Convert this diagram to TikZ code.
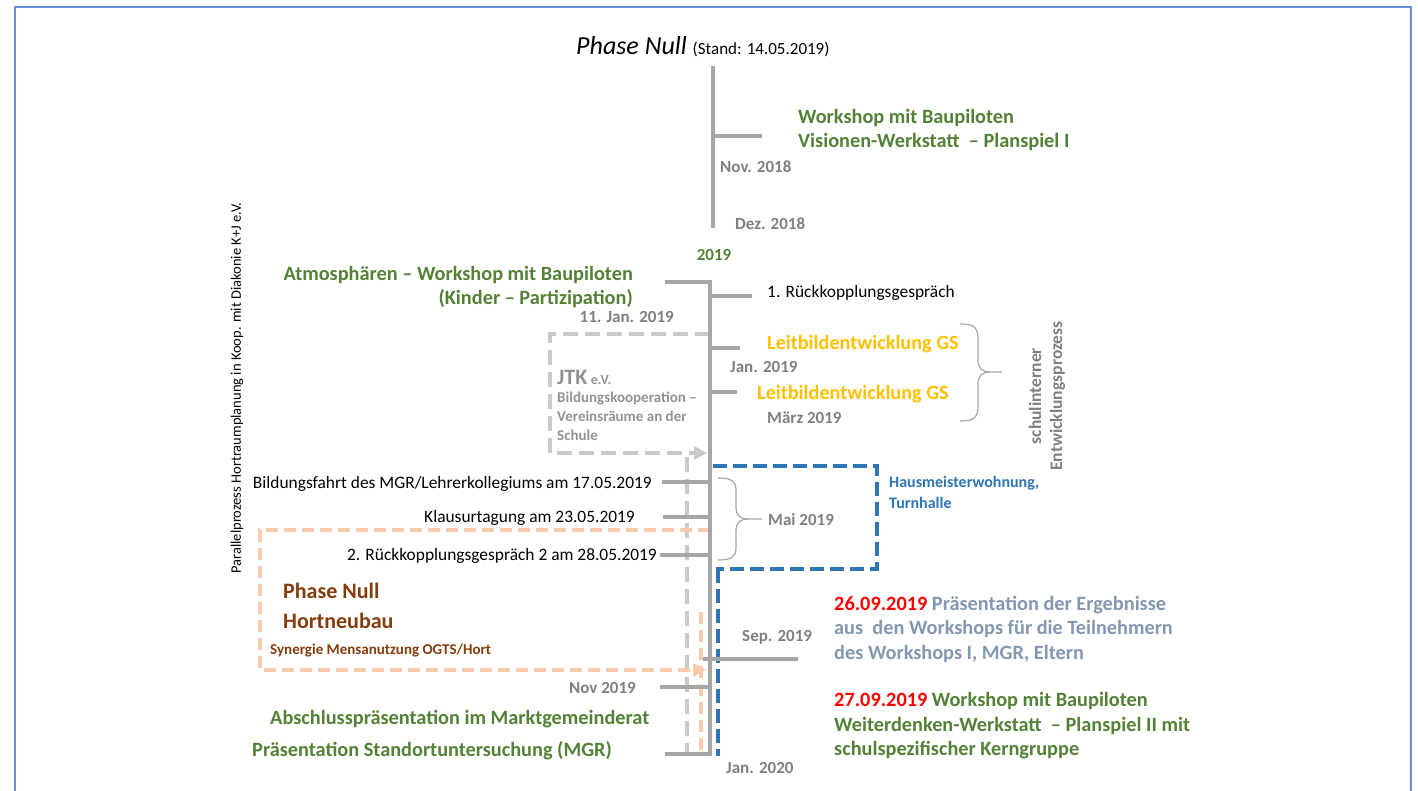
\documentclass[tikz,border=0pt]{standalone}
\usepackage{fontspec}
\setmainfont{Carlito}
\usetikzlibrary{arrows.meta}

\definecolor{achsgrau}{HTML}{A6A6A6}
\definecolor{datgrau}{HTML}{7F7F7F}
\definecolor{wsgruen}{HTML}{538135}
\definecolor{gsorange}{HTML}{FFC000}
\definecolor{hmblau}{HTML}{2E75B6}
\definecolor{hortpfirsich}{HTML}{F8CBAD}
\definecolor{jtkgrau}{HTML}{C9C9C9}
\definecolor{hortbraun}{HTML}{843C0C}
\definecolor{praesblau}{HTML}{8497B0}
\definecolor{rahmblau}{RGB}{106,142,214}

\tikzset{
  achse/.style={draw=achsgrau, line width=4pt},
  klammer/.style={draw=achsgrau, line width=1.2pt},
  rahmen/.style={draw=rahmblau, line width=2.5pt},
  jtklinie/.style={draw=jtkgrau, line width=4pt, dash pattern=on 15pt off 7pt},
  hortlinie/.style={draw=hortpfirsich, line width=4pt, dash pattern=on 12pt off 6pt},
  hmlinie/.style={draw=hmblau, line width=4pt, dash pattern=on 14pt off 6pt},
  datum/.style={inner sep=0pt, text=datgrau, font=\fontsize{17}{20}\selectfont\bfseries},
  termin/.style={inner sep=0pt, text=black, font=\fontsize{17.4}{20}\selectfont},
  gruen/.style={inner sep=0pt, text=wsgruen, font=\fontsize{20.3}{24.5}\selectfont\bfseries},
  gs/.style={inner sep=0pt, text=gsorange, font=\fontsize{20.2}{24}\selectfont\bfseries},
  jtk/.style={inner sep=0pt, text=datgrau!85, font=\fontsize{15}{19}\selectfont\bfseries},
  hm/.style={inner sep=0pt, text=hmblau, font=\fontsize{16}{21}\selectfont\bfseries},
  hort/.style={inner sep=0pt, text=hortbraun, font=\fontsize{22}{30}\selectfont\bfseries},
}

\begin{document}
\begin{tikzpicture}[x=1pt, y=-1pt]
    \useasboundingbox (0,0) rectangle (1418,791);

    \coordinate (r1) at (15,791);
    \coordinate (r2) at (15,7);
    \coordinate (r3) at (1411,7);
    \coordinate (r4) at (1411,791);
    \draw[rahmen] (r1) -- (r2) -- (r3) -- (r4);

    \coordinate (jtk0) at (710,334);
    \coordinate (jtk1) at (550,334);
    \coordinate (jtk2) at (550,453);
    \coordinate (jtk3) at (707,453);
    \coordinate (jtk4) at (687,457);
    \coordinate (jtk5) at (687,752);
    \draw[jtklinie, -{Triangle[length=13pt, width=13pt]}] (jtk0) -- (jtk1) -- (jtk2) -- (jtk3);
    \draw[jtklinie] (jtk4) -- (jtk5);

    \coordinate (hort0) at (710,530);
    \coordinate (hort1) at (260,530);
    \coordinate (hort2) at (260,670);
    \coordinate (hort3) at (706,670);
    \coordinate (hort4) at (701,612);
    \coordinate (hort5) at (701,752);
    \draw[hortlinie, -{Triangle[length=13pt, width=13pt]}] (hort0) -- (hort1) -- (hort2) -- (hort3);
    \draw[hortlinie] (hort4) -- (hort5);

    \coordinate (hm0) at (713,466);
    \coordinate (hm1) at (877,466);
    \coordinate (hm2) at (877,569);
    \coordinate (hm3) at (716,569);
    \coordinate (hm4) at (718,569);
    \coordinate (hm5) at (718,756);
    \draw[hmlinie] (hm0) -- (hm1) -- (hm2) -- (hm3);
    \draw[hmlinie] (hm4) -- (hm5);

    \coordinate (a0) at (713,66);
    \coordinate (a1) at (713,228);
    \coordinate (anov) at (713,136);
    \coordinate (anovE) at (762,136);
    \draw[achse] (a0) -- (a1);
    \draw[achse] (anov) -- (anovE);

    \coordinate (b0) at (665,282);
    \coordinate (b1) at (710,282);
    \coordinate (b9) at (710,756);
    \draw[achse] (b0) -- (b1) -- (b9);

    \coordinate (rk1L) at (710,296);
    \coordinate (rk1R) at (752,296);
    \coordinate (gs1L) at (710,348);
    \coordinate (gs1R) at (740,348);
    \coordinate (gs2L) at (710,392);
    \coordinate (gs2R) at (737,392);
    \coordinate (sepL) at (703,659);
    \coordinate (sepR) at (798,659);
    \draw[achse] (rk1L) -- (rk1R);
    \draw[achse] (gs1L) -- (gs1R);
    \draw[achse] (gs2L) -- (gs2R);
    \draw[achse] (sepL) -- (sepR);

    \coordinate (fahrtL) at (662,482);
    \coordinate (fahrtR) at (710,482);
    \coordinate (klausurL) at (663,517);
    \coordinate (klausurR) at (710,517);
    \coordinate (rk2L) at (660,555);
    \coordinate (rk2R) at (710,555);
    \coordinate (nov19L) at (660,687);
    \coordinate (nov19R) at (710,687);
    \coordinate (jan20L) at (665,754);
    \coordinate (jan20R) at (710,754);
    \draw[achse] (fahrtL) -- (fahrtR);
    \draw[achse] (klausurL) -- (klausurR);
    \draw[achse] (rk2L) -- (rk2R);
    \draw[achse] (nov19L) -- (nov19R);
    \draw[achse] (jan20L) -- (jan20R);

    \draw[klammer] (960,324) .. controls (975,324) and (978,328) .. (978,340) -- (978,360)
        .. controls (978,368) and (982,372) .. (990,372) -- (1002,372);
    \draw[klammer] (960,421) .. controls (975,421) and (978,417) .. (978,405) -- (978,384)
        .. controls (978,376) and (982,372) .. (990,372);
    \draw[klammer] (718,478) .. controls (731,478) and (736,481) .. (736,490) -- (736,508)
        .. controls (736,515) and (740,519) .. (748,519) -- (762,519);
    \draw[klammer] (718,560) .. controls (731,560) and (736,557) .. (736,548) -- (736,530)
        .. controls (736,523) and (740,519) .. (748,519);

    \node[inner sep=0pt, anchor=west, font=\fontsize{26}{30}\selectfont] (titel) at (576,47)
        {\textit{Phase Null} {\fontsize{17}{20}\selectfont (Stand: 14.05.2019)}};

    \node[gruen, anchor=west, align=left] (ws1) at (798,130) {Workshop mit Baupiloten\\Visionen-Werkstatt \ – Planspiel I};
    \node[datum, anchor=west] (nov18) at (720,167) {Nov. 2018};
    \node[datum, anchor=west] (dez18) at (735,224) {Dez. 2018};
    \node[datum, text=wsgruen] (j2019) at (714,255) {2019};

    \node[gruen, anchor=east, align=right] (atmo) at (633,287) {Atmosphären – Workshop mit Baupiloten\\(Kinder – Partizipation)};
    \node[datum, anchor=east] (jan11) at (674,317) {11. Jan. 2019};
    \node[termin, anchor=west] (rk1) at (767,293) {1. Rückkopplungsgespräch};

    \node[gs, anchor=west] (gs1) at (767,344) {Leitbildentwicklung GS};
    \node[datum, anchor=west] (jan19) at (730,367) {Jan. 2019};
    \node[gs, anchor=west] (gs2) at (757,394) {Leitbildentwicklung GS};
    \node[datum, anchor=west] (maerz19) at (767,418) {März 2019};
    \node[datum, rotate=90, align=center, font=\fontsize{17.5}{21}\selectfont\bfseries] (schul) at (1047,396) {schulinterner\\Entwicklungsprozess};

    \node[jtk, anchor=west] (jtk) at (557,377) {{\fontsize{22}{26}\selectfont JTK} {\fontsize{14}{16}\selectfont e.V.}};
    \node[jtk, anchor=west, align=left] (jtktext) at (557,416) {Bildungskooperation –\\Vereinsräume an der\\Schule};

    \node[termin, anchor=east] (fahrt) at (652,484) {Bildungsfahrt des MGR/Lehrerkollegiums am 17.05.2019};
    \node[termin, anchor=east] (klausur) at (635,518) {Klausurtagung am 23.05.2019};
    \node[termin, anchor=east] (rk2) at (657,556) {2. Rückkopplungsgespräch 2 am 28.05.2019};
    \node[datum, anchor=west] (mai19) at (768,520) {Mai 2019};

    \node[hm, anchor=west, align=left] (hmtext) at (889,492) {Hausmeisterwohnung,\\Turnhalle};

    \node[hort, anchor=west, align=left] (hort) at (283,606) {Phase Null\\Hortneubau};
    \node[hort, anchor=west, font=\fontsize{15}{18}\selectfont\bfseries] (synergie) at (270,651) {Synergie Mensanutzung OGTS/Hort};

    \node[datum, anchor=west] (sep19) at (742,637) {Sep. 2019};
    \node[datum, anchor=east] (nov19) at (636,688) {Nov 2019};
    \node[datum, anchor=west] (jan20) at (726,768) {Jan. 2020};

    \node[gruen, anchor=west] (abschluss) at (270,719) {Abschlusspräsentation im Marktgemeinderat};
    \node[gruen, anchor=west] (standort) at (252,751) {Präsentation Standortuntersuchung (MGR)};

    \node[gruen, text=praesblau, anchor=west, align=left] (praes) at (834,629)
        {\textcolor{red}{26.09.2019} Präsentation der Ergebnisse\\aus \ den Workshops für die Teilnehmern\\des Workshops I, MGR, Eltern};
    \node[gruen, anchor=west, align=left] (ws2) at (834,726)
        {\textcolor{red}{27.09.2019} Workshop mit Baupiloten\\Weiterdenken-Werkstatt \ – Planspiel II mit\\schulspezifischer Kerngruppe};

    \node[termin, rotate=90, font=\fontsize{14.5}{17}\selectfont] (parallel) at (237,388) {Parallelprozess Hortraumplanung in Koop. mit Diakonie K+J e.V.};
\end{tikzpicture}
\end{document}
